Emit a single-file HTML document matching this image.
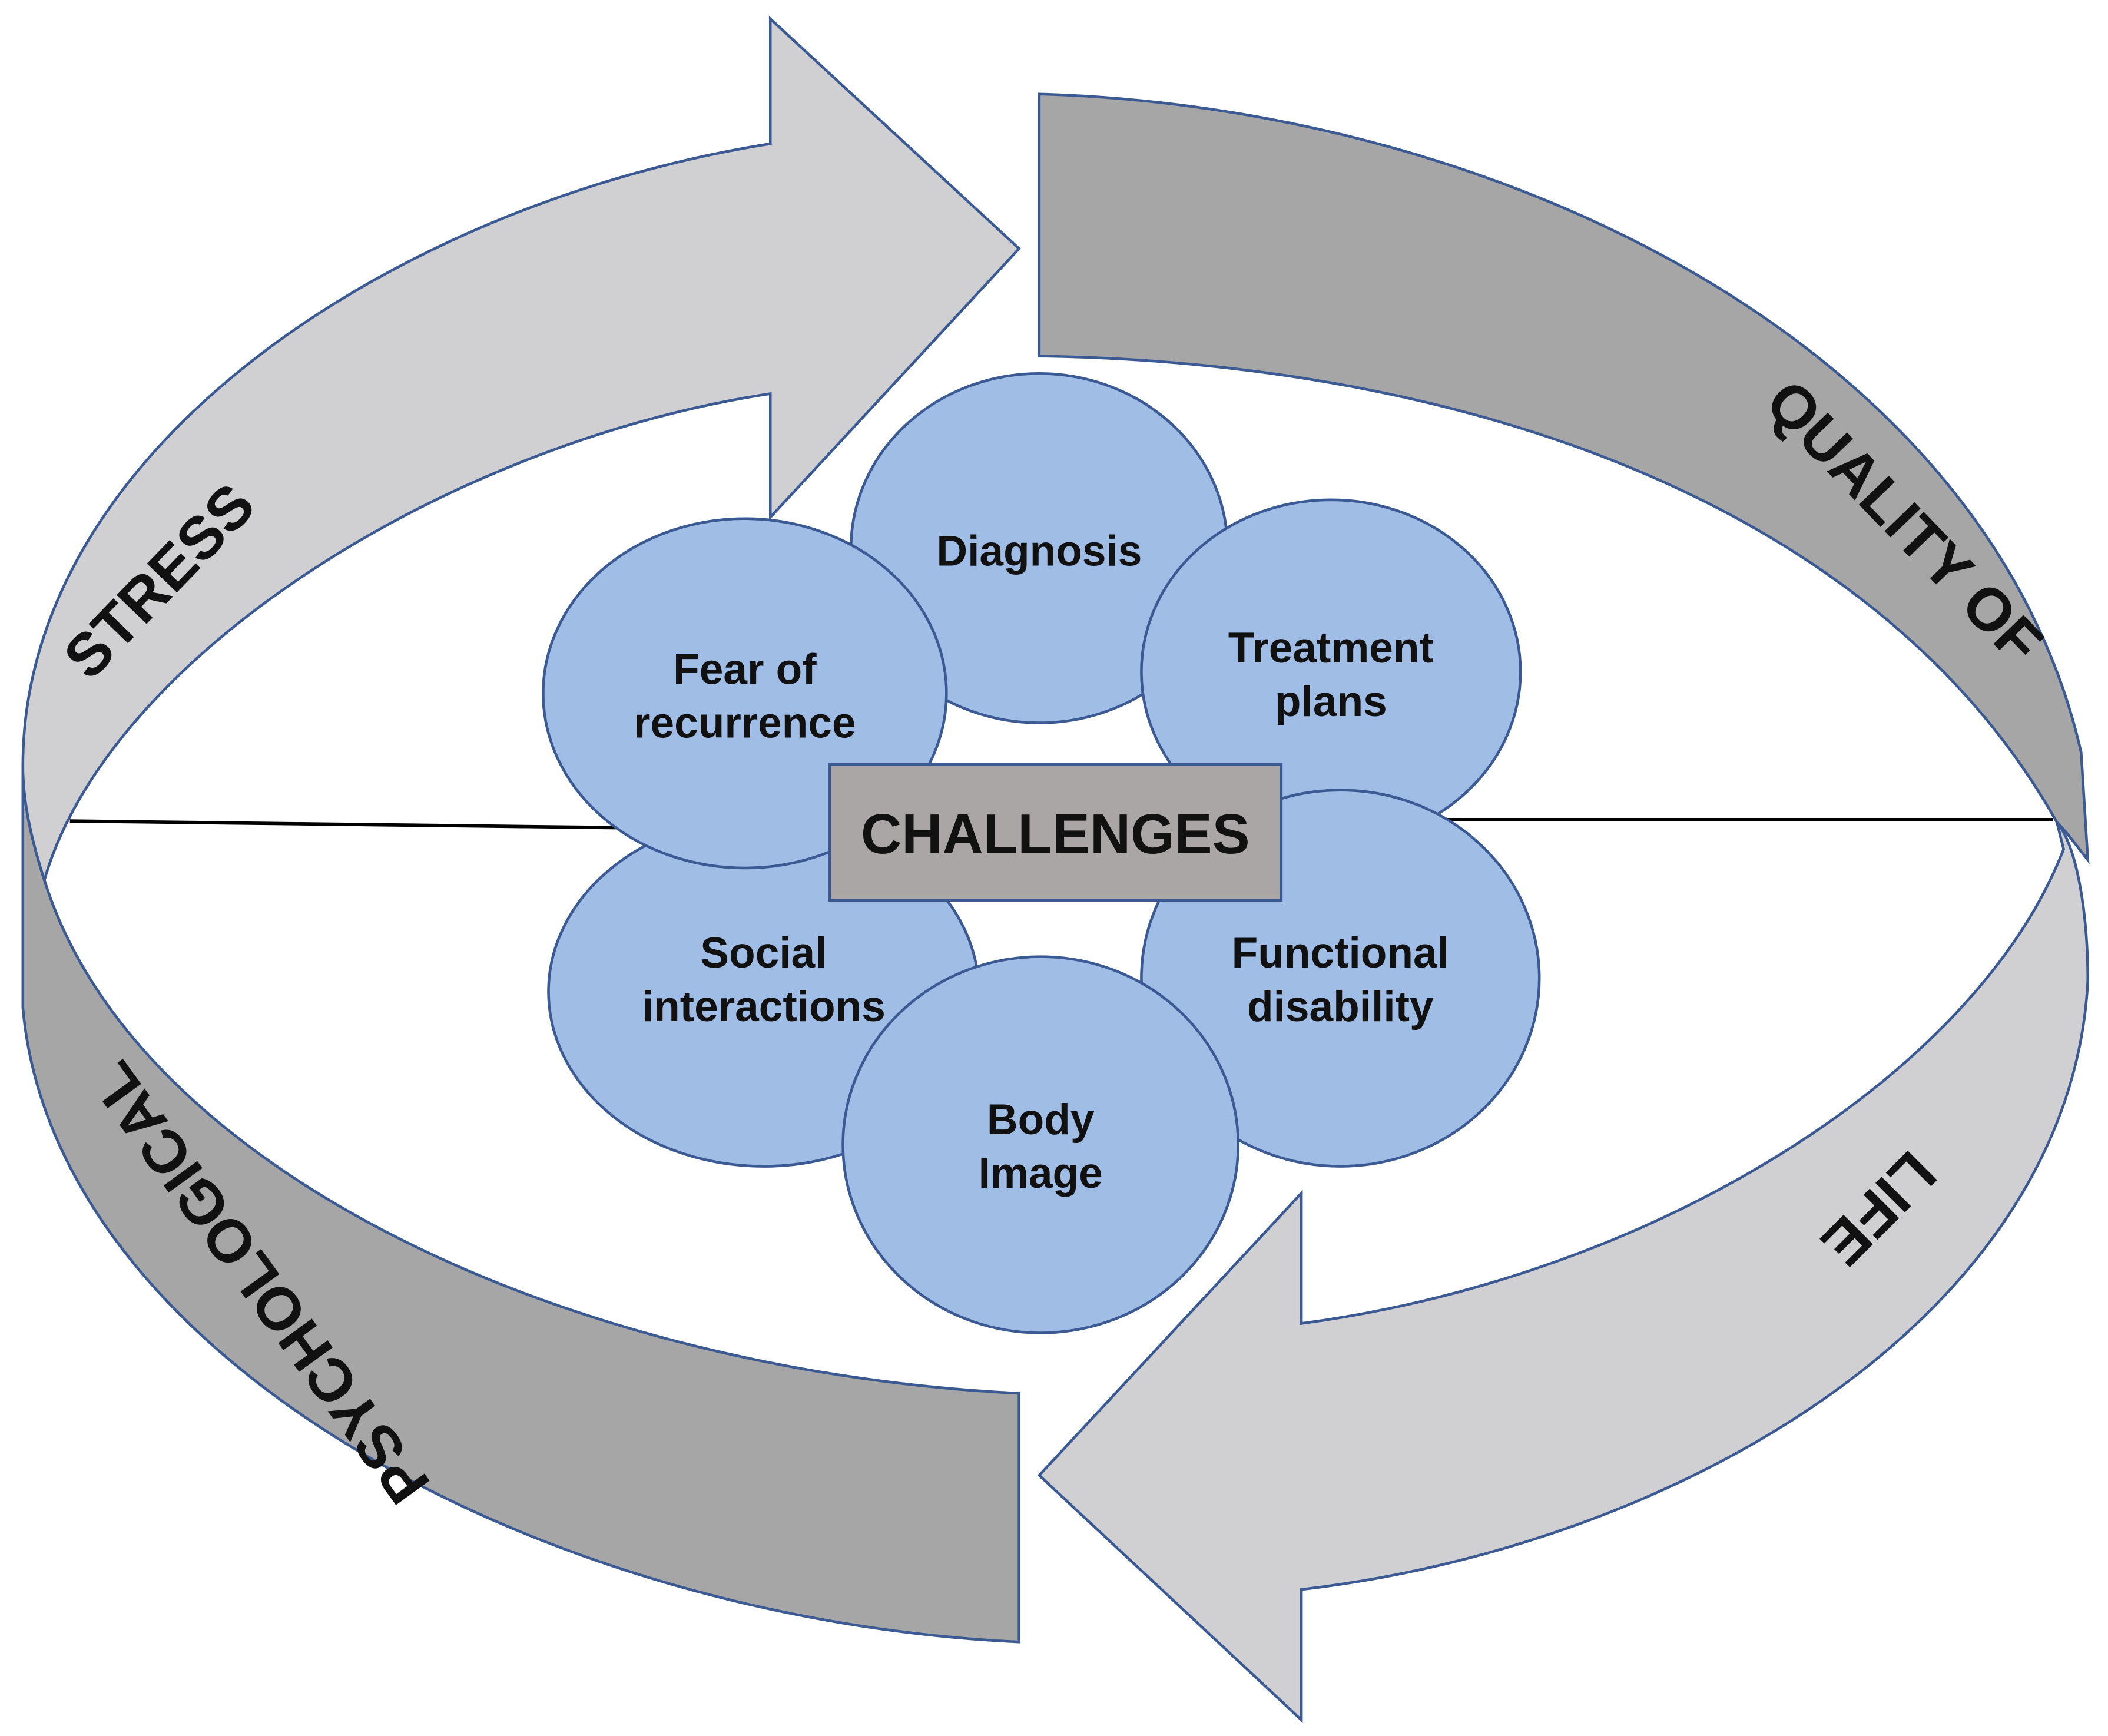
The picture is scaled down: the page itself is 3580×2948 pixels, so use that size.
<!DOCTYPE html>
<html><head><meta charset="utf-8"><style>
html,body{margin:0;padding:0;background:#fff;}
svg{display:block;}
text{font-family:"Liberation Sans",Arial,sans-serif;font-weight:bold;fill:#111;}
</style></head><body>
<svg width="3580" height="2948" viewBox="0 0 1568 1292" preserveAspectRatio="none" xmlns="http://www.w3.org/2000/svg">
<rect width="1568" height="1292" fill="#fff"/>
<g stroke="#3b5a94" stroke-width="2" stroke-linejoin="miter">
<path d="M17,570 L17,750 C40,1010 400,1205 758,1222 L758,1037 C420,1020 100,870 33,655 C25,630 17,600 17,570 Z" fill="#a6a6a6"/>
<path d="M17,570 C17,330 300,150 573,107 L573,14 L758,185 L573,385 L573,293 C330,330 80,490 33,655 C25,630 17,600 17,570 Z" fill="#d0cfd1"/>
<path d="M773,70 C1120,80 1480,260 1548,560 L1553,640 C1545,630 1538,620 1530,612 C1400,380 1100,270 773,265 Z" fill="#a6a6a6"/>
<path d="M1530,612 C1545,630 1553,680 1553,730 C1540,980 1250,1150 968,1183 L968,1280 L773,1098 L968,888 L968,985 C1230,950 1470,800 1535,632 Z" fill="#d0cfd1"/>
</g>
<g stroke="#000" stroke-width="2.5">
<line x1="52" y1="611" x2="460" y2="616"/>
<line x1="1075" y1="610" x2="1527" y2="610"/>
</g>
<g fill="#a0bde6" stroke="#3b5a94" stroke-width="2">
<ellipse cx="773" cy="408" rx="140" ry="130"/>
<ellipse cx="568" cy="738" rx="160" ry="130"/>
<ellipse cx="554" cy="516" rx="150" ry="130"/>
<ellipse cx="990" cy="500" rx="141" ry="128"/>
<ellipse cx="997" cy="728" rx="148" ry="140"/>
<ellipse cx="774" cy="852" rx="147" ry="140"/>
</g>
<rect x="617" y="569" width="336" height="101" fill="#aaa6a6" stroke="#3b5a94" stroke-width="2"/>
<g font-size="32" text-anchor="middle">
<text x="773" y="421">Diagnosis</text>
<text x="990" y="493">Treatment</text>
<text x="990" y="533">plans</text>
<text x="554" y="509">Fear of</text>
<text x="554" y="549">recurrence</text>
<text x="568" y="720">Social</text>
<text x="568" y="760">interactions</text>
<text x="997" y="720">Functional</text>
<text x="997" y="760">disability</text>
<text x="774" y="844">Body</text>
<text x="774" y="884">Image</text>
<text x="785" y="635" font-size="42">CHALLENGES</text>
</g>
<g font-size="45" text-anchor="middle">
<text transform="translate(118,432) rotate(-46)" y="16">STRESS</text>
<text transform="translate(1417,388) rotate(46)" y="16">QUALITY OF</text>
<text transform="translate(1398,900) rotate(135)" y="16">LIFE</text>
<text transform="translate(193,955) rotate(-126)" y="16">PSYCHOLOGICAL</text>
</g>
</svg>
</body></html>
